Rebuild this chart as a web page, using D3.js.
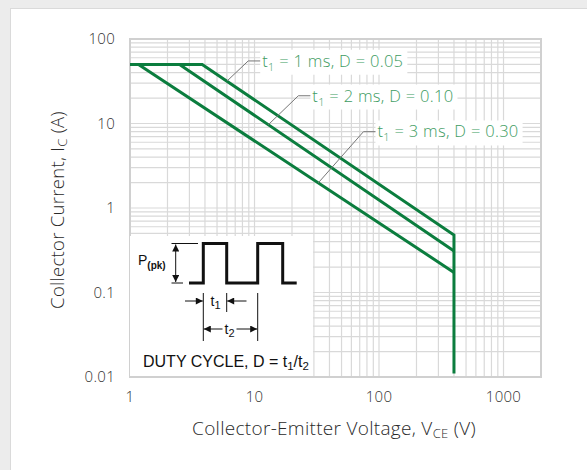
<!DOCTYPE html>
<html>
<head>
<meta charset="utf-8">
<script src="https://cdn.jsdelivr.net/npm/d3@7"></script>
<style>
  body { margin: 0; background: #ffffff; }
  .lite { font-family: "Open Sans", Lato, sans-serif; font-weight: 300; letter-spacing: 0.3px; }
  .arial { font-family: "Liberation Sans", Arial, sans-serif; }
</style>
</head>
<body>
<div id="canvas"></div>
<script>
"use strict"

/* Data: V_CE (V) and I_C (A) for each pulse curve */
let seriesNames = ["1 ms, D = 0.05", "2 ms, D = 0.10", "3 ms, D = 0.30"];
let vceSeries = [
    [1, 3.8, 400, 400],
    [1, 2.5, 400],
    [1, 1.17, 400]
];
let icSeries = [
    [50, 50, 0.48, 0.011],
    [50, 50, 0.31],
    [50, 50, 0.173]
];
let xTickLabels = [1, 10, 100, 1000];
let yTickLabels = [0.01, 0.1, 1, 10, 100];

/* where the leader lines touch each curve, and their elbows (data units) */
let leaderAnchorV = [6.0, 12.9, 32.5];
let leaderElbowV = [8.9, 22.5, 75];
let leaderElbowI = [55, 21.3, 8.0];

/* drawing size */
let svgWidth = 587;
let svgHeight = 470;
let leftMargin = 130;
let rightMargin = 46;
let topMargin = 39;
let bottomMargin = 93;

let svg = d3.select("#canvas")
    .append("svg")
    .attr("width", svgWidth)
    .attr("height", svgHeight);

/* page background and card */
svg.append("rect")
    .attr("width", svgWidth)
    .attr("height", svgHeight)
    .attr("fill", "#ececec");
svg.append("rect")
    .attr("x", 10)
    .attr("y", 8)
    .attr("width", svgWidth)
    .attr("height", svgHeight)
    .attr("fill", "#dadada");
svg.append("rect")
    .attr("x", 11)
    .attr("y", 9)
    .attr("width", svgWidth)
    .attr("height", svgHeight)
    .attr("fill", "white");

/* scales */
let xScale = d3.scaleLog()
    .domain([1, 2000])
    .range([leftMargin, svgWidth - rightMargin]);

let yScale = d3.scaleLog()
    .domain([0.01, 100])
    .range([svgHeight - bottomMargin, topMargin]);

/* grid */
let grid = svg.append("g")
    .attr("stroke", "#d9d9d9")
    .attr("stroke-width", 1.2);

grid.selectAll(".gx")
    .data(xScale.ticks())
    .join("line")
    .attr("x1", d => xScale(d))
    .attr("x2", d => xScale(d))
    .attr("y1", yScale(0.01))
    .attr("y2", yScale(100));

grid.selectAll(".gy")
    .data(yScale.ticks())
    .join("line")
    .attr("x1", xScale(1))
    .attr("x2", xScale(2000))
    .attr("y1", d => yScale(d))
    .attr("y2", d => yScale(d));

/* plot border */
svg.append("rect")
    .attr("x", xScale(1))
    .attr("y", yScale(100))
    .attr("width", xScale(2000) - xScale(1))
    .attr("height", yScale(0.01) - yScale(100))
    .attr("fill", "none")
    .attr("stroke", "#d0d0d0")
    .attr("stroke-width", 2);

/* tick labels */
svg.selectAll(".xl")
    .data(xTickLabels)
    .join("text")
    .attr("class", "lite")
    .attr("x", d => xScale(d))
    .attr("y", yScale(0.01) + 25)
    .attr("text-anchor", "middle")
    .attr("font-size", 15)
    .attr("fill", "#333")
    .text(d => d);

svg.selectAll(".yl")
    .data(yTickLabels)
    .join("text")
    .attr("class", "lite")
    .attr("x", leftMargin - 15)
    .attr("y", d => yScale(d))
    .attr("dy", "0.35em")
    .attr("text-anchor", "end")
    .attr("font-size", 15)
    .attr("fill", "#333")
    .text(d => d);

/* axis titles */
let xTitle = svg.append("text")
    .attr("class", "lite")
    .attr("x", 334)
    .attr("y", 435)
    .attr("text-anchor", "middle")
    .attr("font-size", 19)
    .attr("fill", "#2a2a2a");
xTitle.append("tspan").text("Collector-Emitter Voltage, V");
xTitle.append("tspan").attr("font-size", 13).attr("dy", 3).text("CE");
xTitle.append("tspan").attr("dy", -3).text(" (V)");

let yTitle = svg.append("text")
    .attr("class", "lite")
    .attr("transform", "translate(64, 210) rotate(-90)")
    .attr("text-anchor", "middle")
    .attr("font-size", 18.5)
    .attr("fill", "#2a2a2a");
yTitle.append("tspan").text("Collector Current, I");
yTitle.append("tspan").attr("font-size", 13).attr("dy", 3).text("C");
yTitle.append("tspan").attr("dy", -3).text(" (A)");

/* inset box for the duty cycle sketch */
let boxX = xScale(1);
let boxY = 236;
let boxW = 183;
let boxH = yScale(0.01) - boxY;
svg.append("rect")
    .attr("x", boxX)
    .attr("y", boxY)
    .attr("width", boxW)
    .attr("height", boxH - 1)
    .attr("fill", "white");

/* curves */
let lineGen = d3.line()
    .x(d => xScale(d[0]))
    .y(d => yScale(d[1]));

for (let i = 0; i < vceSeries.length; i++) {
    let pts = vceSeries[i].map((v, j) => [v, icSeries[i][j]]);
    svg.append("path")
        .attr("d", lineGen(pts))
        .attr("fill", "none")
        .attr("stroke", "#0b7d3e")
        .attr("stroke-width", 3)
        .attr("stroke-linejoin", "miter");
}

/* value of a curve at V, interpolated in log space between its points */
function icAt(i, v) {
    let vs = vceSeries[i], is = icSeries[i];
    for (let j = 0; j < vs.length - 1; j++) {
        if (v >= vs[j] && v <= vs[j + 1]) {
            let t = (Math.log(v) - Math.log(vs[j])) / (Math.log(vs[j + 1]) - Math.log(vs[j]));
            return Math.exp(Math.log(is[j]) + t * (Math.log(is[j + 1]) - Math.log(is[j])));
        }
    }
    return is[0];
}

/* labels with leader lines */
for (let i = 0; i < seriesNames.length; i++) {
    let ax = xScale(leaderAnchorV[i]);
    let ay = yScale(icAt(i, leaderAnchorV[i]));
    let ex = xScale(leaderElbowV[i]);
    let ey = yScale(leaderElbowI[i]);

    let bg = svg.append("rect").attr("fill", "white");

    svg.append("path")
        .attr("d", "M" + ax + "," + ay + "L" + ex + "," + ey + "L" + (ex + 12) + "," + ey)
        .attr("fill", "none")
        .attr("stroke", "#777")
        .attr("stroke-width", 1);

    let t = svg.append("text")
        .attr("class", "lite")
        .attr("x", ex + 14)
        .attr("y", ey)
        .attr("dy", "0.35em")
        .attr("font-size", 16.5)
        .attr("fill", "#3e9c62");
    t.append("tspan").text("t");
    t.append("tspan").attr("font-size", 11).attr("dy", 4).text("1");
    t.append("tspan").attr("dy", -4).text(" = " + seriesNames[i]);

    let bb = t.node().getBBox();
    bg.attr("x", bb.x - 2)
        .attr("y", bb.y + 1)
        .attr("width", bb.width + 6)
        .attr("height", bb.height);
}

/* duty cycle sketch */
let sk = svg.append("g")
    .attr("fill", "#111");

let defs = svg.append("defs");
defs.append("marker")
    .attr("id", "ah")
    .attr("viewBox", "0 0 10 10")
    .attr("refX", 10)
    .attr("refY", 5)
    .attr("markerWidth", 10)
    .attr("markerHeight", 7)
    .attr("markerUnits", "userSpaceOnUse")
    .attr("orient", "auto-start-reverse")
    .append("path")
    .attr("d", "M0,0L10,5L0,10Z")
    .attr("fill", "#111");

let hi = 243.5, lo = 283;
let r1 = 203.3, f1 = 226.7, r2 = 257.7, f2 = 282.7;

sk.append("path")
    .attr("d", "M189," + lo + "H" + r1 + "V" + hi + "H" + f1 + "V" + lo + "H" + r2 + "V" + hi + "H" + f2 + "V" + lo + "H296.7")
    .attr("fill", "none")
    .attr("stroke", "#111")
    .attr("stroke-width", 3);

/* thin reference lines */
let thin = sk.append("g").attr("stroke", "#111").attr("stroke-width", 1).attr("fill", "none");
thin.append("path").attr("d", "M171.5," + hi + "H198");
thin.append("path").attr("d", "M171.5," + lo + "H183");
thin.append("path").attr("d", "M" + r1 + ",293V341");
thin.append("path").attr("d", "M" + f1 + ",293V312");
thin.append("path").attr("d", "M" + r2 + ",293V341");

/* arrows */
thin.append("path").attr("d", "M175.7," + (hi + 1) + "V" + (lo - 1))
    .attr("marker-start", "url(#ah)").attr("marker-end", "url(#ah)");
thin.append("path").attr("d", "M185,301H" + (r1 - 0.5)).attr("marker-end", "url(#ah)");
thin.append("path").attr("d", "M246.5,301H" + (f1 + 0.5)).attr("marker-end", "url(#ah)");
thin.append("path").attr("d", "M222.5,329H" + (r1 + 0.5)).attr("marker-end", "url(#ah)");
thin.append("path").attr("d", "M236.5,329H" + (r2 - 0.5)).attr("marker-end", "url(#ah)");

let pk = sk.append("text").attr("class", "arial").attr("x", 138).attr("y", 264.5).attr("font-size", 14);
pk.append("tspan").text("P");
pk.append("tspan").attr("font-size", 10).attr("font-weight", "bold").attr("dy", 4).text("(pk)");

let t1 = sk.append("text").attr("class", "arial").attr("x", 210.5).attr("y", 306).attr("font-size", 14);
t1.append("tspan").text("t");
t1.append("tspan").attr("font-size", 11).attr("dy", 3).text("1");

let t2 = sk.append("text").attr("class", "arial").attr("x", 224.5).attr("y", 334).attr("font-size", 14);
t2.append("tspan").text("t");
t2.append("tspan").attr("font-size", 11).attr("dy", 3).text("2");

let duty = sk.append("text").attr("class", "arial").attr("x", 143).attr("y", 366.5).attr("font-size", 16);
duty.append("tspan").text("DUTY CYCLE, D = t");
duty.append("tspan").attr("font-size", 11.5).attr("dy", 3).text("1");
duty.append("tspan").attr("dy", -3).text("/t");
duty.append("tspan").attr("font-size", 11.5).attr("dy", 3).text("2");
</script>
</body>
</html>
